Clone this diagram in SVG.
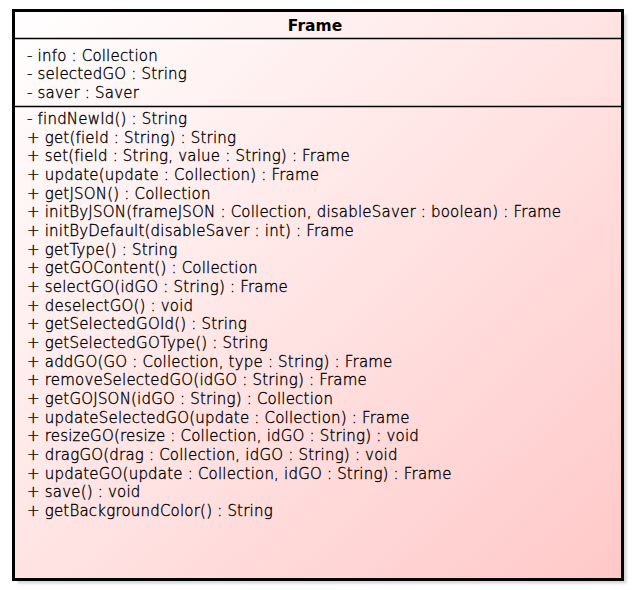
<svg xmlns="http://www.w3.org/2000/svg" width="632" height="590" viewBox="0 0 632 590">
<defs>
<linearGradient id="bg" x1="0" y1="0" x2="1" y2="1">
<stop offset="0" stop-color="#FFFFFF"/>
<stop offset="1" stop-color="#FFC8C8"/>
</linearGradient>
<filter id="blur" x="-5%" y="-5%" width="110%" height="110%"><feGaussianBlur stdDeviation="1"/></filter>
</defs>
<style>
.t{font-family:"DejaVu Sans",sans-serif;font-size:15px;font-weight:200;letter-spacing:0.2px;fill:#000;stroke:#000;stroke-width:0.35px}
.h{font-family:"DejaVu Sans",sans-serif;font-size:15.5px;font-weight:bold;fill:#000}
.sep{stroke:#000;stroke-width:1.5}
</style>
<g id="Frame">
<rect x="17.5" y="14.5" width="609" height="569" fill="#D6D6D6" filter="url(#blur)"/>
<rect x="13.5" y="10.5" width="609" height="569" fill="url(#bg)" stroke="#000" stroke-width="3"/>
<text class="h" x="315" y="31" text-anchor="middle">Frame</text>
<line class="sep" x1="15" y1="38.5" x2="621" y2="38.5"/>
<text class="t" x="27" y="61">- info : Collection</text>
<text class="t" x="27" y="79.3">- selectedGO : String</text>
<text class="t" x="27" y="97.6">- saver : Saver</text>
<line class="sep" x1="15" y1="106.5" x2="621" y2="106.5"/>
<text class="t" x="27" y="124">- findNewId() : String</text>
<text class="t" x="27" y="142.67">+ get(field : String) : String</text>
<text class="t" x="27" y="161.33">+ set(field : String, value : String) : Frame</text>
<text class="t" x="27" y="180">+ update(update : Collection) : Frame</text>
<text class="t" x="27" y="198.67">+ getJSON() : Collection</text>
<text class="t" x="27" y="217.33">+ initByJSON(frameJSON : Collection, disableSaver : boolean) : Frame</text>
<text class="t" x="27" y="236">+ initByDefault(disableSaver : int) : Frame</text>
<text class="t" x="27" y="254.67">+ getType() : String</text>
<text class="t" x="27" y="273.33">+ getGOContent() : Collection</text>
<text class="t" x="27" y="292">+ selectGO(idGO : String) : Frame</text>
<text class="t" x="27" y="310.67">+ deselectGO() : void</text>
<text class="t" x="27" y="329.33">+ getSelectedGOId() : String</text>
<text class="t" x="27" y="348">+ getSelectedGOType() : String</text>
<text class="t" x="27" y="366.67">+ addGO(GO : Collection, type : String) : Frame</text>
<text class="t" x="27" y="385.33">+ removeSelectedGO(idGO : String) : Frame</text>
<text class="t" x="27" y="404">+ getGOJSON(idGO : String) : Collection</text>
<text class="t" x="27" y="422.67">+ updateSelectedGO(update : Collection) : Frame</text>
<text class="t" x="27" y="441.33">+ resizeGO(resize : Collection, idGO : String) : void</text>
<text class="t" x="27" y="460">+ dragGO(drag : Collection, idGO : String) : void</text>
<text class="t" x="27" y="478.67">+ updateGO(update : Collection, idGO : String) : Frame</text>
<text class="t" x="27" y="497.33">+ save() : void</text>
<text class="t" x="27" y="516">+ getBackgroundColor() : String</text>
</g>
<g id="connectors"/>
</svg>
